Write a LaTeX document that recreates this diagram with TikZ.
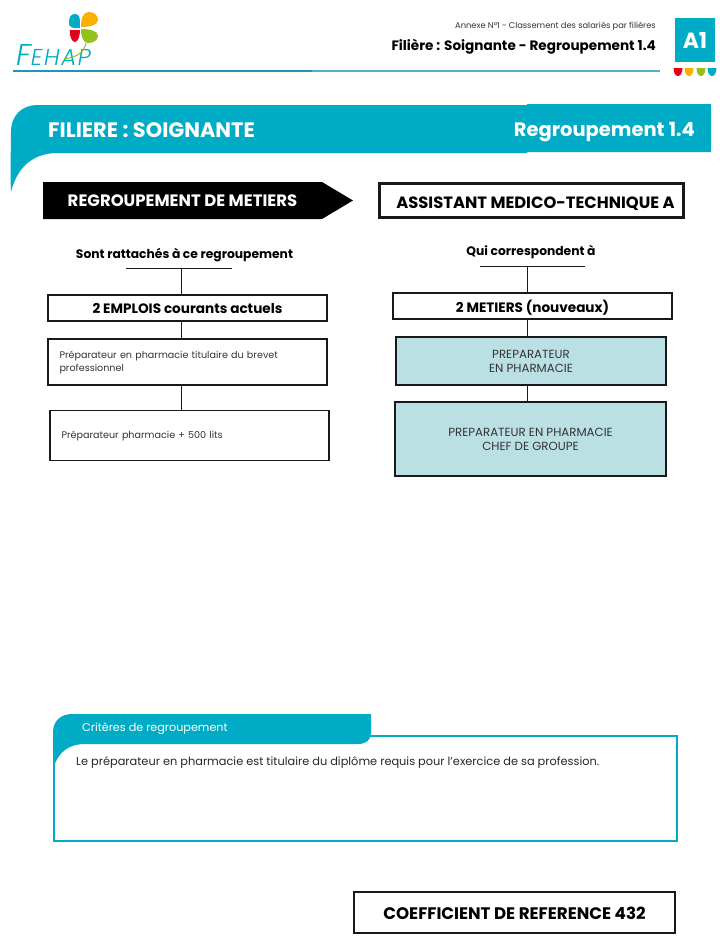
\documentclass[tikz,border=0pt]{standalone}
\usepackage{fontspec}
\setmainfont{Poppins}
\newfontfamily\logofont[LetterSpace=7]{Poppins Light Italic}
\usetikzlibrary{calc}
\definecolor{fehapteal}{HTML}{00ABC5}
\definecolor{fehapline}{HTML}{55AFCB}
\definecolor{fehapdark}{HTML}{1E96B8}
\definecolor{fehapred}{HTML}{E2001A}
\definecolor{fehapyellow}{HTML}{F9B000}
\definecolor{fehapgreen}{HTML}{95C11F}
\definecolor{metierfill}{HTML}{BBE0E3}
\newcommand{\fsize}[1]{\fontsize{#1}{1.18\dimexpr#1pt\relax}\selectfont}

\begin{document}
\begin{tikzpicture}[
			x=1pt, y=-1pt,
			box/.style={draw=black!90, line width=1.2pt, inner sep=0pt, align=center},
			title box/.style={box, fill=white, text depth=0pt, font=\fsize{13.6}\bfseries},
			emploi box/.style={box, align=left, minimum width=279, inner xsep=11.5pt, text width=256, font=\fontsize{9.6}{13}\selectfont, text=black!80},
			metier box/.style={box, fill=metierfill, font=\fsize{11.8}, text=black!80},
			rule text/.style={inner sep=0pt, font=\fsize{12.3}\bfseries},
			banner text/.style={inner sep=0pt, text=white, font=\fsize{20.9}\bfseries},
			link/.style={draw=black!90, line width=0.9pt}
			]
			\useasboundingbox (0,0) rectangle (720,948);
			
			\fill[fehapteal] (11,192) .. controls (10,170) and (11,150) .. (11,132) .. controls (11,115) and (22,105) .. (38,105) -- (527,105) -- (527,104) -- (711,104) -- (711,152) -- (527,152) -- (527,153) -- (58,153) .. controls (32,153) and (17,168) .. (11,192) -- cycle;
			\node[banner text, anchor=west] (filiere) at (48,130) {FILIERE : SOIGNANTE};
			\node[banner text, anchor=east, font=\fsize{19.5}\bfseries] (regroupement) at (695,132.5) {Regroupement 1.4};
			
			\fill[fehapteal] (75,14) .. controls (80,14) and (80,18) .. (80,28) .. controls (73,29) and (68,27) .. (69,22) .. controls (69,17) and (71,14) .. (75,14) -- cycle;
			\fill[fehapyellow] (81,27) .. controls (81,18) and (83,12) .. (89,12) .. controls (95,12) and (98,16) .. (98,20) .. controls (98,25) and (90,27) .. (81,27) -- cycle;
			\fill[fehapred] (70,30) -- (80,30) .. controls (80,36) and (78,42) .. (75,42) .. controls (72,42) and (69,36) .. (70,30) -- cycle;
			\fill[fehapgreen] (81,29) .. controls (90,29) and (98,31) .. (98,36) .. controls (98,41) and (92,43) .. (88,43) .. controls (84,43) and (81,38) .. (81,29) -- cycle;
			\node[inner sep=0pt, anchor=base west, text=fehapteal, font=\logofont\fsize{30}] (logo) at (16,65) {F\fsize{23}EHAP};
			\draw[fehapgreen, line width=1pt] (86,43) .. controls (84,52) and (78,57) .. (64,59);
			\draw[fehapdark, line width=1.2pt] (13,71) -- (312,71);
			\draw[fehapline, line width=1.2pt] (312,71) -- (660,71);
			
			\node[inner sep=0pt, anchor=east, font=\fsize{8.3}, text=black!80] (annexe) at (656,26.5) {Annexe N°1 - Classement des salariés par filières};
			\node[inner sep=0pt, anchor=east, font=\fsize{13.6}\bfseries] (fil) at (656,46.5) {Filière : Soignante - Regroupement 1.4};
			\node[fill=fehapteal, text=white, inner sep=0pt, minimum width=40, minimum height=44, font=\fsize{22}\bfseries] (annexeA) at (695,40) {A1};
			\foreach \px/\pc in {678/fehapred, 689/fehapyellow, 701/fehapgreen, 712/fehapteal}
				\fill[\pc] (\px-4.5,68) -- (\px+4.5,68) .. controls (\px+4.5,73) and (\px+2.5,76) .. (\px,76) .. controls (\px-2.5,76) and (\px-4.5,73) .. (\px-4.5,68) -- cycle;
			
			\fill[black] (43,182) -- (322,182) -- (353,200.5) -- (322,219) -- (43,219) -- cycle;
			\node[inner sep=0pt, text=white, font=\fsize{16.5}\bfseries] (regmet) at (182.5,201) {REGROUPEMENT DE METIERS};
			\node[title box, line width=2.4pt, minimum width=304, minimum height=34, text height=15pt, font=\fsize{16.35}\bfseries] (assistant) at (531.5,200.5) {\hspace*{8pt}ASSISTANT MEDICO-TECHNIQUE A};
			
			\node[rule text] (sont) at (184.5,255.5) {Sont rattachés à ce regroupement};
			\node[title box, minimum width=279, minimum height=26, text height=11pt] (emplois) at (187.5,308) {2 EMPLOIS courants actuels};
			\node[emploi box, minimum height=46] (emploiA) at (187.5,362) {Préparateur en pharmacie titulaire du brevet\\professionnel};
			\node[emploi box, minimum height=50] (emploiB) at (189.5,435.5) {Préparateur pharmacie + 500 lits};
			\coordinate (ruleG) at (181,268);
			\draw[link] (126,268) -- (232,268);
			\draw[link] (ruleG) -- (ruleG |- emplois.north);
			\draw[link] (ruleG |- emplois.south) -- (ruleG |- emploiA.north);
			\draw[link] (ruleG |- emploiA.south) -- (ruleG |- emploiB.north);
			
			\node[rule text] (qui) at (531,252.5) {Qui correspondent à};
			\node[title box, minimum width=279, minimum height=26, text height=12pt] (metiers) at (532.5,306) {2 METIERS (nouveaux)};
			\node[metier box, minimum width=270, minimum height=48] (metierA) at (531,361) {PREPARATEUR\\EN PHARMACIE};
			\node[metier box, minimum width=271, minimum height=74] (metierB) at (530.5,439) {PREPARATEUR EN PHARMACIE\\CHEF DE GROUPE};
			\coordinate (ruleD) at (527,266);
			\draw[link] (480,266) -- (585,266);
			\draw[link] (ruleD) -- (ruleD |- metiers.north);
			\draw[link] (ruleD |- metiers.south) -- (ruleD |- metierA.north);
			\draw[link] (ruleD |- metierA.south) -- (ruleD |- metierB.north);
			
			\draw[fehapteal, line width=1.15pt] (54,760) -- (54,841) -- (677,841) -- (677,736) -- (365,736);
			\fill[fehapteal] (53,770) -- (53,732) .. controls (53,721) and (61,714) .. (72,714) -- (371,714) -- (371,733) .. controls (371,740) and (366,744) .. (358,744) -- (85,744) .. controls (68,744) and (57,753) .. (53,770) -- cycle;
			\node[inner sep=0pt, anchor=west, text=white, font=\fsize{11.2}] (criteres) at (82,729) {Critères de regroupement};
			\node[inner sep=0pt, anchor=west, font=\fsize{11.35}, text=black!85] (prepa) at (76,763) {Le préparateur en pharmacie est titulaire du diplôme requis pour l'exercice de sa profession.};
			
			\node[title box, line width=1.6pt, minimum width=321, minimum height=41, text height=13pt, font=\fsize{16.7}\bfseries] (coef) at (514.5,912.5) {COEFFICIENT DE REFERENCE 432};
		\end{tikzpicture}
\end{document}
